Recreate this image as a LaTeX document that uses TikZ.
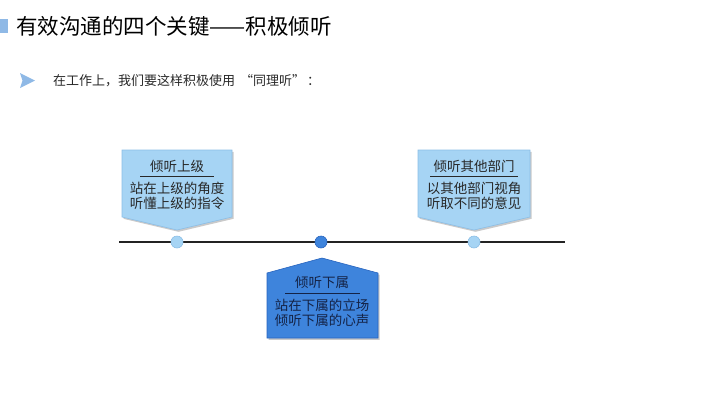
\documentclass[tikz,border=0pt]{standalone}
\usepackage{fontspec}
\newfontfamily\cjk{Noto Sans CJK SC}
\usetikzlibrary{shadows}
\definecolor{lightbox}{RGB}{166,212,244}
\definecolor{lightedge}{RGB}{140,190,230}
\definecolor{darkbox}{RGB}{62,132,220}
\definecolor{darkedge}{RGB}{40,100,190}
\definecolor{accent}{RGB}{143,185,230}
\definecolor{linecol}{RGB}{35,35,35}
\definecolor{txt}{RGB}{40,40,40}
\definecolor{darktxt}{RGB}{20,35,70}
\tikzset{
  tagshape/.style={line width=0.6pt, drop shadow={shadow xshift=1.5pt, shadow yshift=-1.8pt, opacity=0.35, fill=black!60}},
  lighttag/.style={tagshape, fill=lightbox, draw=lightedge},
  darktag/.style={tagshape, fill=darkbox, draw=darkedge},
  tagtitle/.style={font=\cjk\fontsize{13.5}{15}\selectfont, inner sep=0pt, anchor=center},
  tagbody/.style={font=\cjk\fontsize{13.5}{15}\selectfont, inner sep=0pt, align=center, anchor=center},
  dotlight/.style={circle, minimum size=12pt, inner sep=0pt, fill=lightbox, draw=lightedge, line width=0.6pt},
  dotdark/.style={circle, minimum size=12pt, inner sep=0pt, fill=darkbox, draw=darkedge, line width=0.6pt},
  timeline/.style={draw=linecol, line width=1.8pt},
}
\begin{document}
\begin{tikzpicture}[x=1pt,y=-1pt]
\useasboundingbox (0,0) rectangle (720,405);
% title
\fill[accent] (0,19) rectangle (8,33);
\node[font=\cjk\fontsize{21.5}{24}\selectfont, anchor=west, inner sep=0pt, text=black] (title) at (16,26) {有效沟通的四个关键——积极倾听};
% subtitle
\fill[accent] (20,73) -- (35,80.5) -- (20,88) -- (22.5,80.5) -- cycle;
\node[font=\cjk\fontsize{13}{14}\selectfont, anchor=west, inner sep=0pt, text=txt] (sub) at (53,81) {在工作上，我们要这样积极使用\hspace{5pt}“同理听”\hspace{2pt}：};
% timeline
\coordinate (tlL) at (119,242);
\coordinate (tlR) at (565,242);
\draw[timeline] (tlL) -- (tlR);
% tags
\path[lighttag] (122,150) -- (232,150) -- (232,217) -- (177,230) -- (122,217) -- cycle;
\path[lighttag] (418,150) -- (530,150) -- (530,217) -- (474,230) -- (418,217) -- cycle;
\path[darktag] (322,258) -- (378,273) -- (378,338) -- (267,338) -- (267,273) -- cycle;
% dots
\node[dotlight] (d1) at (177,242) {};
\node[dotdark] (d2) at (321,242) {};
\node[dotlight] (d3) at (474,242) {};
% texts box 1
\node[tagtitle, text=txt] (t1) at (177,166) {倾听上级};
\draw[txt, line width=0.7pt] (140,176.5) -- (214,176.5);
\node[tagbody, text=txt] (b1) at (177,195.5) {站在上级的角度\\听懂上级的指令};
% box 3
\node[tagtitle, text=txt] (t3) at (474,166) {倾听其他部门};
\draw[txt, line width=0.7pt] (430,176.5) -- (518,176.5);
\node[tagbody, text=txt] (b3) at (474,195.5) {以其他部门视角\\听取不同的意见};
% box 2
\node[tagtitle, text=darktxt] (t2) at (322,282) {倾听下属};
\draw[darktxt, line width=0.7pt] (285,293) -- (360,293);
\node[tagbody, text=darktxt] (b2) at (322,313) {站在下属的立场\\倾听下属的心声};
\end{tikzpicture}
\end{document}
